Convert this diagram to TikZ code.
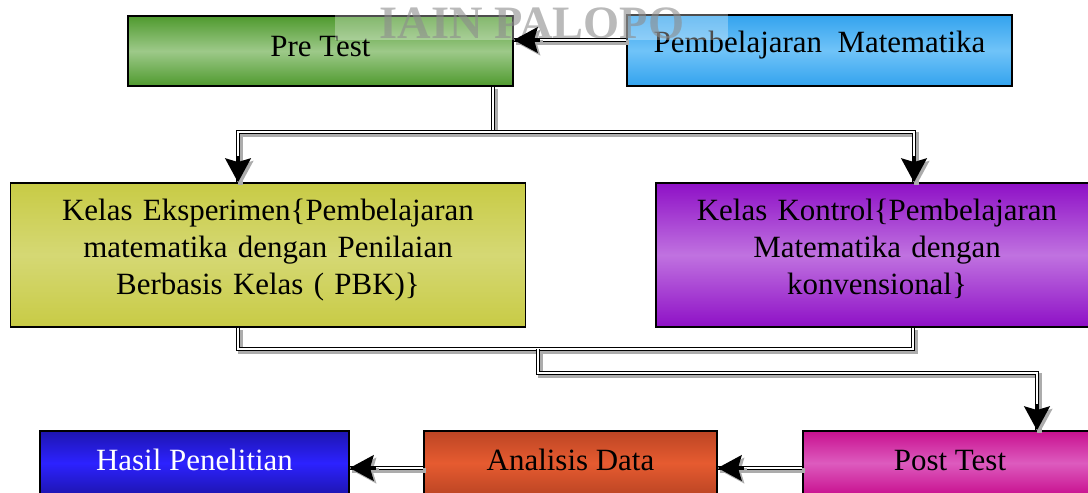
\documentclass[tikz,border=0pt]{standalone}
\usepackage{fontspec}
\setmainfont{Liberation Serif}
\usetikzlibrary{arrows.meta}
\usetikzlibrary{positioning}

\definecolor{pregreen}{HTML}{4F9A2E}
\definecolor{prelight}{HTML}{9DC989}
\definecolor{matblue}{HTML}{33A3EE}
\definecolor{matlight}{HTML}{70C3F8}
\definecolor{eksolive}{HTML}{C8CB45}
\definecolor{ekslight}{HTML}{D5D874}
\definecolor{konpurple}{HTML}{8E10C6}
\definecolor{konlight}{HTML}{C072E0}
\definecolor{hasblue}{HTML}{1E15B0}
\definecolor{haslight}{HTML}{2C22FF}
\definecolor{anaorange}{HTML}{BC4524}
\definecolor{analight}{HTML}{E65B30}
\definecolor{postpink}{HTML}{C8108F}
\definecolor{postlight}{HTML}{DD5BBE}

\begin{document}
\begin{tikzpicture}[x=0.025cm,y=-0.025cm,
  box/.style={draw=black,line width=0.8pt,inner sep=0pt,align=center,
    font=\fontsize{22}{26.5}\selectfont},
  shade3/.style 2 args={top color=#1,bottom color=#1,middle color=#2},
  shadow/.style={preaction={draw=gray!65,line width=#1,transform canvas={shift={(1.8pt,-1.8pt)}}}},
  link/.style={draw=black,line width=1.1pt,double=white,double distance=0.9pt,shadow=3.1pt},
  head/.style={draw=black,line width=3pt,shadow=3pt,
    -{Stealth[length=17pt,width=18pt,inset=2.5pt]}}]
\useasboundingbox (0,0) rectangle (1088,493);
\clip (0,0) rectangle (1088,493);

\node[box,shade3={pregreen}{prelight},minimum width=9.625cm,minimum height=1.75cm,text depth=7pt] (pre) at (320.5,51) {Pre Test};
\node[box,shade3={matblue}{matlight},minimum width=9.625cm,minimum height=1.775cm,text depth=12pt] (mat) at (819.5,50.5) {Pembelajaran\ \ Matematika};
\node[box,shade3={eksolive}{ekslight},minimum width=12.85cm,minimum height=3.6cm,text width=12cm,text depth=65pt] (eks) at (268,255)
  {Kelas Eksperimen\{Pembelajaran\\ matematika dengan Penilaian\\ Berbasis Kelas ( PBK)\}};
\node[box,shade3={konpurple}{konlight},minimum width=11.05cm,minimum height=3.6cm,text width=10.5cm,text depth=65pt] (kon) at (877,255)
  {Kelas Kontrol\{Pembelajaran\\ Matematika dengan\\ konvensional\}};
\node[box,shade3={hasblue}{haslight},minimum width=7.725cm,minimum height=1.6cm,text=white,text depth=4pt] (hasil) at (194.5,463) {Hasil Penelitian};
\node[box,shade3={anaorange}{analight},minimum width=7.325cm,minimum height=1.6cm,text depth=4pt] (ana) at (570.5,463) {Analisis Data};
\node[box,shade3={postpink}{postlight},minimum width=7.35cm,minimum height=1.6cm,text depth=4pt] (post) at (950,463) {Post Test};

\fill[white,opacity=0.3] (335,0) rectangle (728,40);
\node[font=\fontsize{33}{33}\bfseries\selectfont,text=gray!90,opacity=0.6] (wm) at (532,23) {IAIN PALOPO};

% top part
\coordinate (topy) at (0,40);
\coordinate (fork) at (493,132);
\coordinate (forkL) at (238,132);
\coordinate (forkR) at (914,132);
\coordinate (preIn) at (pre.east |- topy);
\coordinate (eksIn) at (eks.north -| forkL);
\coordinate (konIn) at (kon.north -| forkR);
\draw[link] (mat.west |- topy) -- (preIn);
\draw[head] ([xshift=19pt]preIn) -- (preIn);
\draw[link] (pre.south -| fork) -- (fork);
\draw[link] (fork) -- (forkL) -- (eksIn);
\draw[head] ([yshift=19pt]eksIn) -- (eksIn);
\draw[link] (fork) -- (forkR) -- (konIn);
\draw[head] ([yshift=19pt]konIn) -- (konIn);

% middle part
\coordinate (joinL) at (238,349);
\coordinate (joinR) at (913,349);
\coordinate (joinM) at (538,349);
\coordinate (bend) at (538,373);
\coordinate (bendR) at (1037,373);
\coordinate (postIn) at (post.north -| bendR);
\draw[link] (eks.south -| joinL) -- (joinL) -- (joinR) -- (kon.south -| joinR);
\draw[link] (joinM) -- (bend) -- (bendR) -- (postIn);
\draw[head] ([yshift=19pt]postIn) -- (postIn);

% bottom row
\coordinate (boty) at (0,468);
\coordinate (anaIn) at (ana.east |- boty);
\coordinate (hasIn) at (hasil.east |- boty);
\draw[link] (post.west |- boty) -- (anaIn);
\draw[head] ([xshift=19pt]anaIn) -- (anaIn);
\draw[link] (ana.west |- boty) -- (hasIn);
\draw[head] ([xshift=19pt]hasIn) -- (hasIn);

\end{tikzpicture}
\end{document}
